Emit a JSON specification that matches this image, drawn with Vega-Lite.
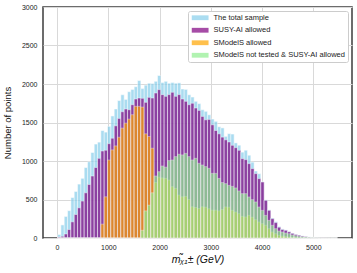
{
  "$schema": "https://vega.github.io/schema/vega-lite/v6.json",
  "width": 309,
  "height": 231,
  "autosize": {"type": "none"},
  "padding": {"left": 43, "top": 7, "right": 5, "bottom": 35},
  "background": "white",
  "config": {
    "font": "Liberation Sans",
    "view": {"stroke": "#3c3c3c", "strokeWidth": 1.5},
    "axis": {
      "grid": true,
      "gridColor": "#d9d9d9",
      "gridWidth": 1,
      "domain": false,
      "ticks": false,
      "labelFontSize": 7,
      "labelColor": "#222222",
      "titleColor": "#111111",
      "titleFontWeight": "normal"
    }
  },
  "data": {
    "values": [
      {"m": 32.5, "T": 45, "S": 13, "O": 0, "G": 0},
      {"m": 97.5, "T": 170, "S": 22, "O": 0, "G": 0},
      {"m": 162.5, "T": 280, "S": 52, "O": 0, "G": 0},
      {"m": 227.5, "T": 355, "S": 110, "O": 0, "G": 0},
      {"m": 292.5, "T": 525, "S": 210, "O": 0, "G": 0},
      {"m": 357.5, "T": 605, "S": 305, "O": 0, "G": 0},
      {"m": 422.5, "T": 700, "S": 392, "O": 0, "G": 0},
      {"m": 487.5, "T": 775, "S": 480, "O": 0, "G": 0},
      {"m": 552.5, "T": 915, "S": 587, "O": 0, "G": 0},
      {"m": 617.5, "T": 990, "S": 695, "O": 0, "G": 0},
      {"m": 682.5, "T": 1110, "S": 805, "O": 0, "G": 0},
      {"m": 747.5, "T": 1220, "S": 915, "O": 0, "G": 0},
      {"m": 812.5, "T": 1245, "S": 1035, "O": 0, "G": 0},
      {"m": 877.5, "T": 1395, "S": 1130, "O": 180, "G": 0},
      {"m": 942.5, "T": 1375, "S": 1140, "O": 535, "G": 0},
      {"m": 1007.5, "T": 1450, "S": 1225, "O": 1013, "G": 0},
      {"m": 1072.5, "T": 1585, "S": 1296, "O": 1144, "G": 0},
      {"m": 1137.5, "T": 1675, "S": 1457, "O": 1196, "G": 0},
      {"m": 1202.5, "T": 1785, "S": 1553, "O": 1309, "G": 0},
      {"m": 1267.5, "T": 1860, "S": 1640, "O": 1427, "G": 0},
      {"m": 1332.5, "T": 1800, "S": 1675, "O": 1492, "G": 0},
      {"m": 1397.5, "T": 1900, "S": 1666, "O": 1544, "G": 0},
      {"m": 1462.5, "T": 1930, "S": 1731, "O": 1601, "G": 0},
      {"m": 1527.5, "T": 1965, "S": 1805, "O": 1710, "G": 0},
      {"m": 1592.5, "T": 2045, "S": 1818, "O": 1710, "G": 0},
      {"m": 1657.5, "T": 1940, "S": 1814, "O": 1700, "G": 100},
      {"m": 1722.5, "T": 1985, "S": 1762, "O": 1353, "G": 352},
      {"m": 1787.5, "T": 2010, "S": 1827, "O": 1318, "G": 426},
      {"m": 1852.5, "T": 2005, "S": 1818, "O": 1166, "G": 587},
      {"m": 1917.5, "T": 2035, "S": 1883, "O": 720, "G": 805},
      {"m": 1982.5, "T": 2110, "S": 1927, "O": 790, "G": 861},
      {"m": 2047.5, "T": 2020, "S": 1862, "O": 780, "G": 935},
      {"m": 2112.5, "T": 2035, "S": 1840, "O": 774, "G": 920},
      {"m": 2177.5, "T": 2010, "S": 1862, "O": 752, "G": 1005},
      {"m": 2242.5, "T": 2020, "S": 1892, "O": 666, "G": 1013},
      {"m": 2307.5, "T": 2010, "S": 1840, "O": 644, "G": 1057},
      {"m": 2372.5, "T": 2015, "S": 1862, "O": 557, "G": 1088},
      {"m": 2437.5, "T": 1935, "S": 1805, "O": 535, "G": 1079},
      {"m": 2502.5, "T": 1930, "S": 1775, "O": 540, "G": 1100},
      {"m": 2567.5, "T": 1860, "S": 1731, "O": 500, "G": 1057},
      {"m": 2632.5, "T": 1830, "S": 1750, "O": 405, "G": 1013},
      {"m": 2697.5, "T": 1775, "S": 1688, "O": 396, "G": 1035},
      {"m": 2762.5, "T": 1745, "S": 1657, "O": 383, "G": 970},
      {"m": 2827.5, "T": 1665, "S": 1579, "O": 405, "G": 948},
      {"m": 2892.5, "T": 1645, "S": 1535, "O": 400, "G": 927},
      {"m": 2957.5, "T": 1600, "S": 1540, "O": 380, "G": 905},
      {"m": 3022.5, "T": 1545, "S": 1470, "O": 361, "G": 840},
      {"m": 3087.5, "T": 1515, "S": 1396, "O": 361, "G": 840},
      {"m": 3152.5, "T": 1445, "S": 1353, "O": 352, "G": 774},
      {"m": 3217.5, "T": 1430, "S": 1310, "O": 370, "G": 720},
      {"m": 3282.5, "T": 1320, "S": 1275, "O": 403, "G": 706},
      {"m": 3347.5, "T": 1355, "S": 1247, "O": 400, "G": 684},
      {"m": 3412.5, "T": 1350, "S": 1204, "O": 359, "G": 671},
      {"m": 3477.5, "T": 1235, "S": 1173, "O": 338, "G": 650},
      {"m": 3542.5, "T": 1205, "S": 1139, "O": 316, "G": 611},
      {"m": 3607.5, "T": 1115, "S": 1031, "O": 281, "G": 576},
      {"m": 3672.5, "T": 1140, "S": 1018, "O": 273, "G": 576},
      {"m": 3737.5, "T": 1075, "S": 966, "O": 294, "G": 533},
      {"m": 3802.5, "T": 985, "S": 901, "O": 270, "G": 498},
      {"m": 3867.5, "T": 870, "S": 836, "O": 238, "G": 468},
      {"m": 3932.5, "T": 835, "S": 771, "O": 208, "G": 403},
      {"m": 3997.5, "T": 730, "S": 727, "O": 186, "G": 359},
      {"m": 4062.5, "T": 495, "S": 489, "O": 165, "G": 294},
      {"m": 4127.5, "T": 365, "S": 359, "O": 121, "G": 229},
      {"m": 4192.5, "T": 260, "S": 251, "O": 78, "G": 165},
      {"m": 4257.5, "T": 212, "S": 200, "O": 56, "G": 121},
      {"m": 4322.5, "T": 150, "S": 140, "O": 35, "G": 91},
      {"m": 4387.5, "T": 118, "S": 110, "O": 25, "G": 78},
      {"m": 4452.5, "T": 105, "S": 100, "O": 18, "G": 65},
      {"m": 4517.5, "T": 85, "S": 80, "O": 12, "G": 56},
      {"m": 4582.5, "T": 65, "S": 60, "O": 8, "G": 40},
      {"m": 4647.5, "T": 48, "S": 45, "O": 5, "G": 30},
      {"m": 4712.5, "T": 38, "S": 35, "O": 3, "G": 22},
      {"m": 4777.5, "T": 28, "S": 25, "O": 0, "G": 16},
      {"m": 4842.5, "T": 20, "S": 18, "O": 0, "G": 12},
      {"m": 4907.5, "T": 14, "S": 12, "O": 0, "G": 8},
      {"m": 4972.5, "T": 10, "S": 8, "O": 0, "G": 5},
      {"m": 5037.5, "T": 6, "S": 5, "O": 0, "G": 3},
      {"m": 5102.5, "T": 4, "S": 3, "O": 0, "G": 2},
      {"m": 5167.5, "T": 3, "S": 2, "O": 0, "G": 0},
      {"m": 5232.5, "T": 2, "S": 1, "O": 0, "G": 0},
      {"m": 5297.5, "T": 1, "S": 0, "O": 0, "G": 0},
      {"m": 5362.5, "T": 1, "S": 0, "O": 0, "G": 0},
      {"m": 5427.5, "T": 1, "S": 0, "O": 0, "G": 0}
    ]
  },
  "transform": [
    {"fold": ["T", "S", "O", "G"], "as": ["series", "n"]}
  ],
  "mark": {"type": "bar", "opacity": 0.7, "stroke": "white", "strokeWidth": 0.5, "binSpacing": 0},
  "encoding": {
    "x": {
      "field": "m",
      "type": "quantitative",
      "bin": {"step": 65, "extent": [0, 5460]},
      "scale": {"domain": [-274, 5754], "nice": false, "zero": false},
      "axis": {
        "values": [0, 1000, 2000, 3000, 4000, 5000],
        "format": "d",
        "labelPadding": 5,
        "title": "mᵪ̃₁± (GeV)",
        "titleFontSize": 10.5,
        "titleFontStyle": "italic",
        "titlePadding": 4
      }
    },
    "y": {
      "aggregate": "sum",
      "field": "n",
      "type": "quantitative",
      "stack": null,
      "scale": {"domain": [0, 3000], "nice": false},
      "axis": {
        "values": [0, 500, 1000, 1500, 2000, 2500, 3000],
        "format": "d",
        "labelPadding": 6,
        "title": "Number of points",
        "titleFontSize": 9.5,
        "titlePadding": 9
      }
    },
    "color": {
      "field": "series",
      "type": "nominal",
      "scale": {
        "domain": ["T", "S", "O", "G"],
        "range": ["#87CEEB", "#800080", "#FFA500", "#90EE90"]
      },
      "legend": {
        "title": null,
        "orient": "top-right",
        "offset": 4,
        "fillColor": "white",
        "strokeColor": "#cccccc",
        "cornerRadius": 2,
        "padding": 3,
        "symbolType": "M-1,-0.8H4.6V0.8H-1Z",
        "symbolSize": 36,
        "symbolOpacity": 0.7,
        "symbolStrokeWidth": 0,
        "labelFontSize": 7.5,
        "labelColor": "#222222",
        "labelOffset": 15,
        "rowPadding": 3.5,
        "labelExpr": "{'T':'The total sample','S':'SUSY-AI allowed','O':'SModelS allowed','G':'SModelS not tested & SUSY-AI allowed'}[datum.label]"
      }
    }
  }
}
